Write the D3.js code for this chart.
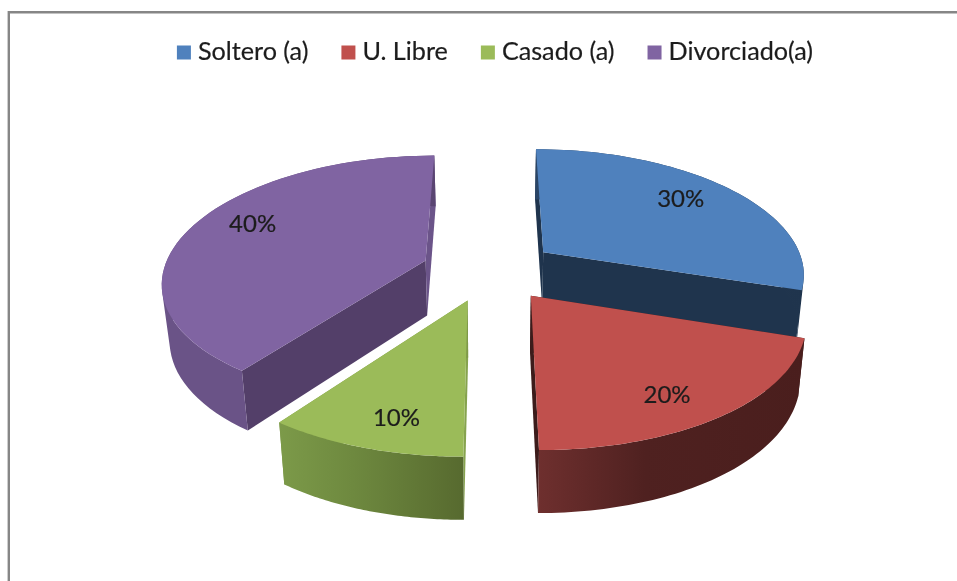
<!DOCTYPE html>
<html>
<head>
<meta charset="utf-8">
<script src="https://cdn.jsdelivr.net/npm/d3@7"></script>
<style>
  html, body { margin: 0; padding: 0; background: #fff; overflow: hidden; }
  svg { display: block; filter: blur(0.45px); }
  text { font-family: Lato, "Open Sans", sans-serif; fill: #1c1c1c; stroke: #1c1c1c; stroke-width: 0.2px; }
</style>
</head>
<body>
<svg id="chart" width="957" height="581"></svg>
<script>
const categories = ["Soltero (a)", "U. Libre", "Casado (a)", "Divorciado(a)"];
const percents = [30, 20, 10, 40];
const colors = ["#4f81bd", "#c0504d", "#9bbb59", "#8064a2"];
// shades of the two cut faces of each slice
const startFace = ["#1f344d", "#3c1c1b", "#86a34e", "#533f69"];
const endFace = ["#1f344d", "#3c1c1b", "#7f9a49", "#6b5489"];
// rim shades, left to right
const rimLeft = ["#2a4566", "#6e2f2e", "#7c9a49", "#6a5387"];
const rimMid = ["#24394f", "#4f2120", "#6e893f", "#6a5387"];
const rimRight = ["#1f344d", "#4a1e1d", "#576a2f", "#5a4572"];
const labelNudge = [[1, -7], [5, 15], [0, 16], [-4, -11]];

const svg = d3.select("#chart");

// projection of the tilted pie, fitted by eye
const cx = 489.5, cy = 270;
const rx = 262, ry = 123;       // radius on the plane
const ex = 68, ey = 31;         // explosion distance
const kx = 0.0013, ky = 0.0012; // perspective
const labelR = 0.72;

function project(X, Q) {
	return [cx + X / (1 - kx * Q), cy + Q / (1 - ky * Q)];
}

// lower edge of the slab for a point on the top face
function drop(p) {
	const pull = p[0] < cx ? 0.976 : 0.98;
	return [cx + (p[0] - cx) * pull, p[1] + 55.4 + 0.042 * (p[1] - cy)];
}

const pie = d3.pie().sort(null).value(d => d);
const arcs = pie(percents);
const line = d3.line();
const deg = d3.scaleLinear().domain([0, 1]);

function slicePoint(a, t, r) {
	const m = (a.startAngle + a.endAngle) / 2;
	const X = ex * Math.sin(m) + rx * r * Math.sin(t);
	const Q = -ey * Math.cos(m) - ry * r * Math.cos(t);
	return project(X, Q);
}

function rimPoints(a, from, to) {
	const t = deg.range([from, to]);
	return d3.range(0, 61).map(i => slicePoint(a, t(i / 60), 1));
}

function wall(a, t) {
	const c = slicePoint(a, 0, 0), e = slicePoint(a, t, 1);
	return line([c, e, drop(e), drop(c)]) + "Z";
}

// rim band as one quad per step, all wound the same way so the fold at the
// left of the pie stays filled
function rimBand(rim) {
	return d3.pairs(rim).map(([p, q]) => {
		const quad = [p, q, drop(q), drop(p)];
		return line(d3.polygonArea(quad) < 0 ? quad.reverse() : quad) + "Z";
	}).join("");
}

const defs = svg.append("defs");

svg.append("path")
	.attr("d", "M8.8,581V12.3H957")
	.attr("fill", "none")
	.attr("stroke", "#868686")
	.attr("stroke-width", 2.4);

// painter order: purple and green do not touch the others, red sits over blue
[3, 0, 1, 2].forEach(i => {
	const a = arcs[i];
	const g = svg.append("g").attr("class", "slice");
	const rim = rimPoints(a, a.startAngle, a.endAngle);

	const grad = defs.append("linearGradient")
		.attr("id", "rim" + i)
		.attr("gradientUnits", "userSpaceOnUse")
		.attr("x1", d3.min(rim, d => d[0])).attr("x2", d3.max(rim, d => d[0]))
		.attr("y1", 0).attr("y2", 0);
	grad.append("stop").attr("offset", 0).attr("stop-color", rimLeft[i]);
	grad.append("stop").attr("offset", 0.4).attr("stop-color", rimMid[i]);
	grad.append("stop").attr("offset", 1).attr("stop-color", rimRight[i]);

	g.append("path").attr("d", wall(a, a.startAngle)).attr("fill", startFace[i]);
	g.append("path").attr("d", wall(a, a.endAngle)).attr("fill", endFace[i]);
	g.append("path")
		.attr("d", rimBand(rim))
		.attr("fill", "url(#rim" + i + ")");
	g.append("path")
		.attr("d", line([slicePoint(a, 0, 0)].concat(rim)) + "Z")
		.attr("fill", colors[i]);

	const m = (a.startAngle + a.endAngle) / 2;
	const p = slicePoint(a, m, labelR);
	g.append("text")
		.attr("x", p[0] + labelNudge[i][0])
		.attr("y", p[1] + labelNudge[i][1])
		.attr("dy", "0.35em")
		.attr("text-anchor", "middle")
		.attr("font-size", 24)
		.text(percents[i] + "%");
});

// legend, laid out from the measured text widths
const legend = svg.append("g").attr("class", "legend");
const items = legend.selectAll("g").data(categories).enter().append("g");
items.append("rect")
	.attr("y", 45.5).attr("width", 14).attr("height", 14)
	.attr("fill", (d, i) => colors[i]);
items.append("text")
	.attr("x", 21).attr("y", 60)
	.attr("font-size", 25.2)
	.text(d => d);

let lx = 0;
items.attr("transform", function () {
	const t = "translate(" + lx + ",0)";
	lx += 21 + d3.select(this).select("text").node().getComputedTextLength() + 33;
	return t;
});
legend.attr("transform", "translate(" + (495 - (lx - 33) / 2) + ",0)");
</script>
</body>
</html>
